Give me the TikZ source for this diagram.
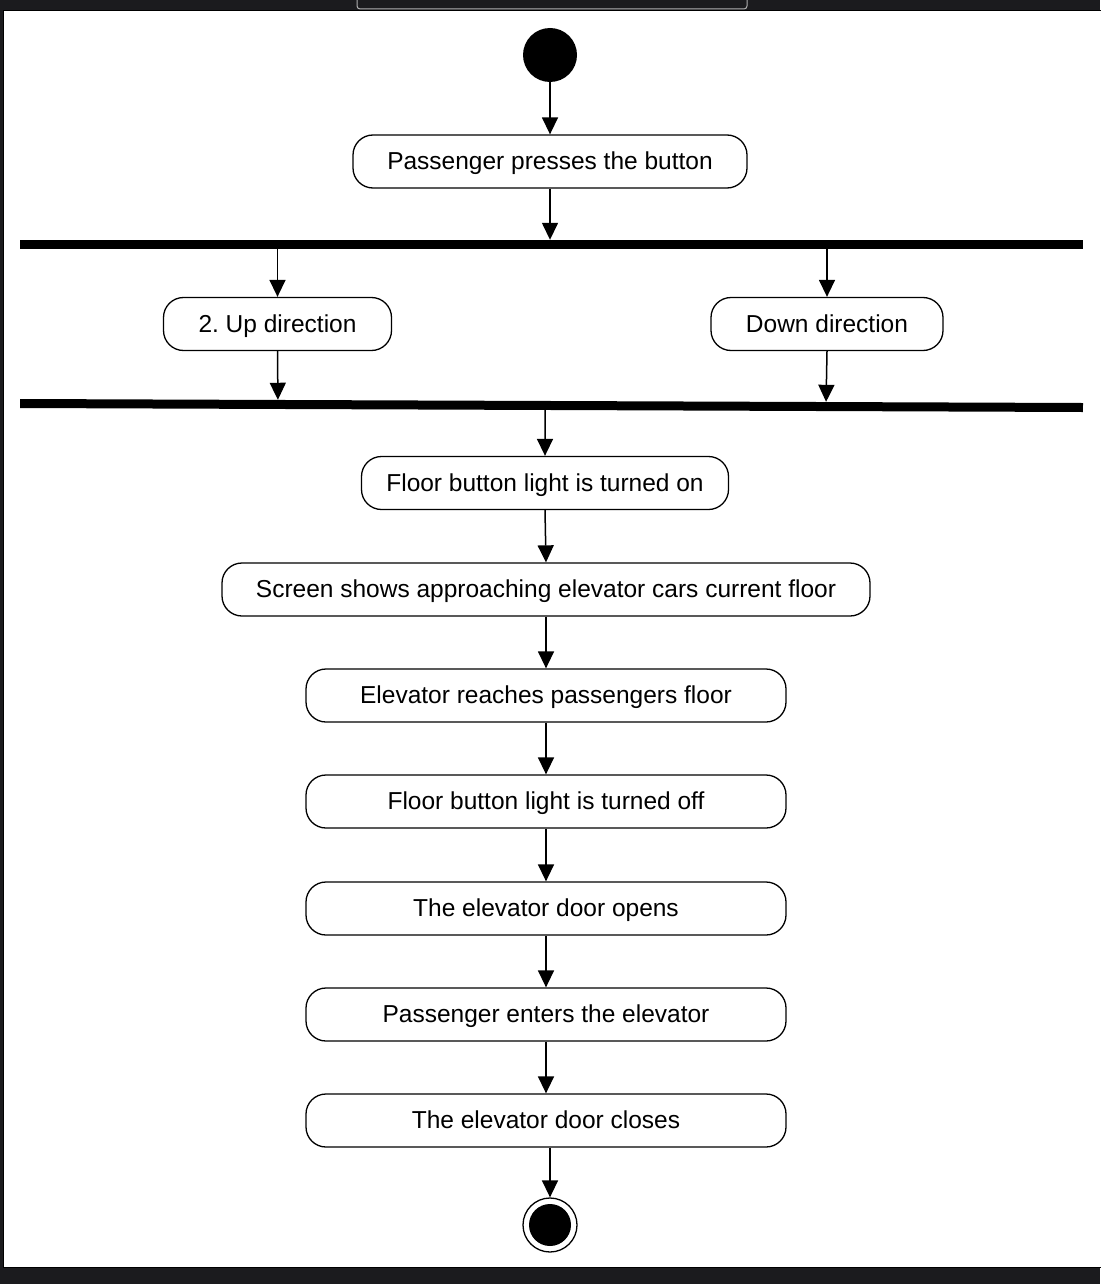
\documentclass[tikz,border=0pt]{standalone}
\usepackage{fontspec}
\setmainfont{Liberation Sans}
\usetikzlibrary{arrows.meta,calc}
\definecolor{chrome}{HTML}{1B1B1E}
\definecolor{tabedge}{HTML}{B0B0B0}
\frenchspacing
\begin{document}
\begin{tikzpicture}[x=1pt,y=-1pt,
  activity/.style={draw=black,line width=1.3pt,fill=white,rounded corners=20pt,
    minimum height=53pt,inner sep=0pt,text height=20pt,text depth=4pt,
    font=\fontsize{24.5}{29}\selectfont},
  syncbar/.style={fill=black,draw=none,minimum width=1063pt,minimum height=9pt,inner sep=0pt},
  flow/.style={line width=1.5pt,-{Triangle[width=16pt,length=17pt]}},
  initial/.style={circle,fill=black,minimum size=54pt,inner sep=0pt},
  final/.style={circle,draw=black,line width=1.3pt,fill=white,minimum size=54pt,inner sep=0pt,
    path picture={\fill[black] (path picture bounding box.center) circle[radius=21pt];}}
]
% window chrome and canvas
\useasboundingbox (0,0) rectangle (1100,1284);
\fill[chrome] (0,0) rectangle (1100,1284);
\draw[black,line width=1pt,fill=white] (3,11) rectangle (1102,1267);
\draw[tabedge,line width=1pt,fill=chrome,rounded corners=3pt] (357,-10) rectangle (747,9);

% nodes
\node[initial] (start) at (550,55) {};
\node[activity,minimum width=394pt] (press) at (550,161.5) {Passenger presses the button};
\node[syncbar] (fork) at (551.5,244.5) {};
\node[activity,minimum width=228pt] (up) at (277.5,324) {2. Up direction};
\node[activity,minimum width=232pt] (down) at (827,324) {Down direction};
\node[syncbar,rotate=-0.216] (join) at (551.5,405.5) {};
\node[activity,minimum width=367pt] (lighton) at (545,483) {Floor button light is turned on};
\node[activity,minimum width=648pt] (screen) at (546,589.5) {Screen shows approaching elevator cars current floor};
\node[activity,minimum width=480pt] (reach) at (546,695.5) {Elevator reaches passengers floor};
\node[activity,minimum width=480pt] (lightoff) at (546,801.5) {Floor button light is turned off};
\node[activity,minimum width=480pt] (opens) at (546,908.5) {The elevator door opens};
\node[activity,minimum width=480pt] (enters) at (546,1014.5) {Passenger enters the elevator};
\node[activity,minimum width=480pt] (closes) at (546,1120.5) {The elevator door closes};
\node[final] (end) at (550,1225) {};

% control flow
\draw[flow] (start.south) -- (press.north);
\draw[flow] (press.south) -- (press.south |- fork.north);
\draw[flow] (up.north |- fork.south) -- (up.north);
\draw[flow] (down.north |- fork.south) -- (down.north);
\draw[flow] (up.south) -- ($(join.north west)!0.2427!(join.north east)$);
\draw[flow] (down.south) -- ($(join.north west)!0.7582!(join.north east)$);
\draw[flow] ($(join.south west)!0.4939!(join.south east)$) -- (lighton.north);
\draw[flow] (lighton.south) -- (screen.north);
\draw[flow] (screen.south) -- (reach.north);
\draw[flow] (reach.south) -- (lightoff.north);
\draw[flow] (lightoff.south) -- (opens.north);
\draw[flow] (opens.south) -- (enters.north);
\draw[flow] (enters.south) -- (closes.north);
\draw[flow] (end.north |- closes.south) -- (end.north);
\end{tikzpicture}
\end{document}
